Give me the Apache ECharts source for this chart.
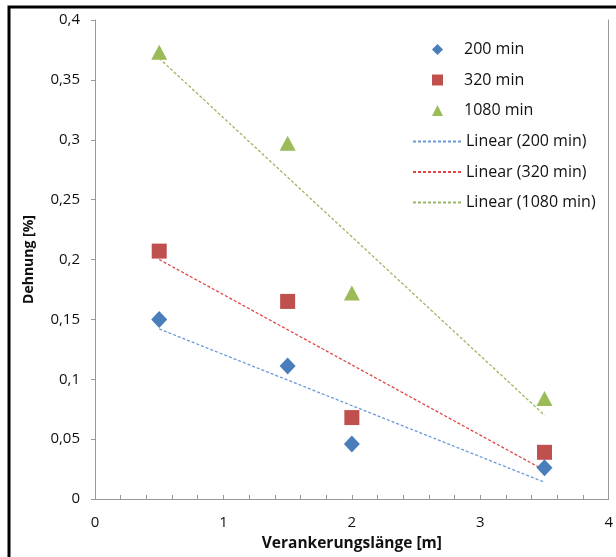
<!DOCTYPE html>
<html>
<head>
<meta charset="utf-8">
<script src="https://cdn.jsdelivr.net/npm/echarts@6/dist/echarts.min.js"></script>
<style>
  html, body { margin: 0; padding: 0; background: #fff; }
  #chart { width: 616px; height: 557px; }
</style>
</head>
<body>
<div id="chart"></div>
<script>
// measured points (x = Verankerungslänge in m, y = Dehnung in %)
var lengths = [0.5, 1.5, 2, 3.5];
var values200 = [0.150, 0.111, 0.046, 0.026];
var values320 = [0.207, 0.165, 0.068, 0.039];
var values1080 = [0.373, 0.297, 0.172, 0.084];

// trend line end points (at x = 0.5 and x = 3.5)
var trendX = [0.5, 3.5];
var trend200 = [0.142, 0.014];
var trend320 = [0.200, 0.024];
var trend1080 = [0.368, 0.070];

var names = ['200 min', '320 min', '1080 min', 'Linear (200 min)', 'Linear (320 min)', 'Linear (1080 min)'];

function pairs(xs, ys) {
    return xs.map(function (x, i) { return [x, ys[i]]; });
}

var font = '"Open Sans", Lato, sans-serif';
var blue = '#4a7ebb', red = '#c0504d', green = '#9bbb59';
var legendText = { fontFamily: font, fontSize: 16, lineHeight: 17, color: '#111' };

var chart = echarts.init(document.getElementById('chart'));

var option = {
    animation: false,
    textStyle: { fontFamily: font },
    graphic: [{
        type: 'rect',
        shape: { x: 9, y: 7, width: 640, height: 600 },
        style: { fill: 'none', stroke: '#000', lineWidth: 3 },
        silent: true
    }],
    grid: { left: 95, top: 20, right: 6, bottom: 58 },
    legend: [{
        // marker entries
        orient: 'vertical',
        left: 427,
        top: 36,
        itemWidth: 11,
        itemHeight: 11,
        itemGap: 13.5,
        data: [
            { name: names[0], icon: 'diamond' },
            { name: names[1], icon: 'rect' },
            { name: names[2], icon: 'triangle' }
        ],
        textStyle: Object.assign({ padding: [0, 0, 0, 16] }, legendText)
    }, {
        // trend line entries, symbol hidden so only the dashed line shows
        orient: 'vertical',
        left: 407,
        top: 128,
        itemWidth: 48,
        itemHeight: 11,
        itemGap: 13.5,
        itemStyle: { opacity: 0 },
        data: [names[3], names[4], names[5]],
        textStyle: legendText
    }],
    xAxis: {
        type: 'value',
        min: 0,
        max: 4,
        interval: 1,
        name: 'Verankerungslänge [m]',
        nameLocation: 'middle',
        nameGap: 37,
        nameTextStyle: { fontFamily: font, fontSize: 15.5, fontWeight: 'bold', color: '#111' },
        axisLine: { show: true, lineStyle: { color: '#999' } },
        axisTick: { show: true, inside: true, length: 4, lineStyle: { color: '#999' } },
        minorTick: { show: true, splitNumber: 5, length: 4, lineStyle: { color: '#999' } },
        splitLine: { show: false },
        axisLabel: { fontFamily: font, fontSize: 15, color: '#111', margin: 16 }
    },
    yAxis: [{
        type: 'value',
        min: 0,
        max: 0.4,
        interval: 0.05,
        name: 'Dehnung [%]',
        nameLocation: 'middle',
        nameGap: 59,
        nameTextStyle: { fontFamily: font, fontSize: 14, fontWeight: 'bold', color: '#111' },
        axisLine: { show: true, lineStyle: { color: '#999' } },
        axisTick: { show: true, length: 4, lineStyle: { color: '#999' } },
        splitLine: { show: false },
        axisLabel: {
            fontFamily: font, fontSize: 15, color: '#111', margin: 15,
            formatter: function (v) { return String(Math.round(v * 100) / 100).replace('.', ','); }
        }
    }, {
        type: 'value',
        min: 0,
        max: 0.4,
        position: 'right',
        axisLine: { show: true, lineStyle: { color: '#999' } },
        axisTick: { show: false },
        axisLabel: { show: false },
        splitLine: { show: false }
    }],
    series: [{
        name: names[0],
        type: 'scatter',
        symbol: 'diamond',
        symbolSize: [16, 17],
        itemStyle: { color: blue, opacity: 1 },
        data: pairs(lengths, values200),
        z: 5
    }, {
        name: names[1],
        type: 'scatter',
        symbol: 'rect',
        symbolSize: 15,
        itemStyle: { color: red, opacity: 1 },
        data: pairs(lengths, values320),
        z: 5
    }, {
        name: names[2],
        type: 'scatter',
        symbol: 'triangle',
        symbolSize: [16, 15],
        itemStyle: { color: green, opacity: 1 },
        data: pairs(lengths, values1080),
        z: 5
    }, {
        name: names[3],
        type: 'line',
        symbol: 'none',
        lineStyle: { color: '#6a9ad8', width: 1.3, type: [3, 2] },
        itemStyle: { color: '#6a9ad8' },
        data: pairs(trendX, trend200)
    }, {
        name: names[4],
        type: 'line',
        symbol: 'none',
        lineStyle: { color: '#e04646', width: 1.3, type: [3, 2] },
        itemStyle: { color: '#e04646' },
        data: pairs(trendX, trend320)
    }, {
        name: names[5],
        type: 'line',
        symbol: 'none',
        lineStyle: { color: '#9ab762', width: 1.3, type: [3, 2] },
        itemStyle: { color: '#9ab762' },
        data: pairs(trendX, trend1080)
    }]
};

chart.setOption(option);
</script>
</body>
</html>
